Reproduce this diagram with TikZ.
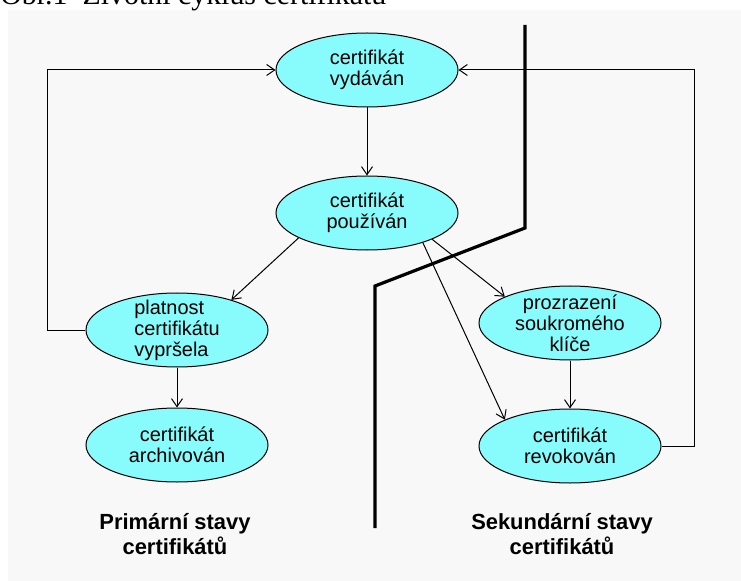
\documentclass[tikz,border=0pt]{standalone}
\usepackage{fontspec}
\setmainfont{Liberation Sans}
\newfontfamily\captionserif{Liberation Serif}
\usetikzlibrary{arrows.meta,shapes.geometric}
\definecolor{cyklcyan}{RGB}{136,252,252}
\definecolor{cyklback}{RGB}{248,248,248}

\begin{document}
\begin{tikzpicture}[x=0.5bp, y=-0.5bp,
    font=\fontsize{10}{10.5}\selectfont,
    state/.style={ellipse, draw=black, line width=0.5bp, fill=cyklcyan, minimum width=91bp, minimum height=37bp, inner xsep=0pt, inner ysep=-4bp, align=center},
    arr/.style={-{Straight Barb[length=4bp, width=5.5bp]}, line width=0.5bp},
    sep/.style={line width=1.6bp},
    group/.style={font=\fontsize{11}{12.5}\selectfont\bfseries, align=center}
  ]
    \path[use as bounding box, clip] (0,0) rectangle (741,581);
    \fill[cyklback] (8,10) rectangle (741,581);
    \node[anchor=base west, inner sep=0pt, font=\captionserif\fontsize{15}{15}\selectfont] (caption) at (0,4.5) {Obr.1\ \ Životní cyklus certifikátu};

    \node[state] (vydavan) at (367,70) {certifikát\\vydáván};
    \node[state] (pouzivan) at (367,213) {certifikát\\používán};
    \node[state, align=left] (platnost) at (177,330) {platnost\\certifikátu\\vypršela};
    \node[state] (archivovan) at (177,445) {certifikát\\archivován};
    \node[state] (prozrazeni) at (570,323) {prozrazení\\soukromého\\klíče};
    \node[state] (revokovan) at (570,446) {certifikát\\revokován};

    % hranice mezi primarnimi a sekundarnimi stavy
    \draw[sep] (525,25) -- (525,228) -- (375,286) -- (375,528);

    \draw[arr] (vydavan) -- (pouzivan);
    \draw[arr] (pouzivan.200) -- (platnost.29);
    \draw[arr] (pouzivan.338) -- (prozrazeni.158);
    \draw[arr] (pouzivan.332) -- (revokovan.158);
    \draw[arr] (platnost) -- (archivovan);
    \draw[arr] (prozrazeni) -- (revokovan);
    \draw[arr] (platnost.west) -- +(-38,0) |- (vydavan.west);
    \draw[arr] (revokovan.east) -- +(33,0) |- (vydavan.east);

    \node[group] (primarni) at (175,534) {Primární stavy\\certifikátů};
    \node[group] (sekundarni) at (562,534) {Sekundární stavy\\certifikátů};
  \end{tikzpicture}
\end{document}
